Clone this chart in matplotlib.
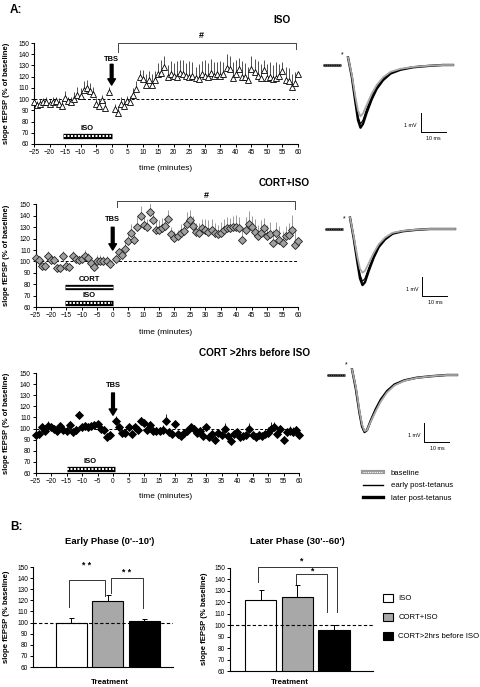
import matplotlib
matplotlib.use('Agg')
import matplotlib.pyplot as plt
from matplotlib.lines import Line2D
from matplotlib.patches import Patch
from matplotlib.legend_handler import HandlerTuple

plt.rcParams['font.family'] = ['Liberation Sans', 'DejaVu Sans']

# ---------------- data ----------------
time_pre = list(range(-25, 0))
time_post = list(range(1, 61))
time_min = time_pre + time_post

iso_vals = [97, 95, 96, 97, 97, 96, 97, 98, 96, 94, 101, 98, 97, 100, 104, 103, 108, 110, 107, 105, 96, 94, 99, 92, 106,
            91, 88, 96, 94, 98, 97, 104, 109, 120, 118, 113, 117, 113, 117, 122, 123, 129, 120, 122, 121,
            120, 123, 122, 121, 120, 121, 119, 118, 122, 121, 120, 123, 121, 122, 121, 122, 128, 127, 119, 122,
            127, 120, 120, 117, 127, 124, 121, 119, 126, 119, 120, 118, 119, 121, 125, 117, 116, 111, 114, 122]
iso_err = [4, 3, 4, 4, 5, 4, 5, 4, 5, 5, 6, 4, 5, 6, 7, 7, 8, 7, 7, 6, 5, 6, 5, 6, 5,
           5, 6, 6, 6, 5, 6, 6, 7, 6, 8, 9, 8, 9, 8, 10, 12, 9, 10, 12, 11,
           14, 12, 13, 11, 14, 12, 10, 13, 12, 14, 12, 13, 12, 11, 13, 11, 12, 11, 14, 13,
           10, 14, 12, 12, 11, 12, 13, 12, 9, 12, 13, 12, 14, 10, 8, 12, 12, 11, 10, 13]

cortiso_vals = [103, 101, 96, 96, 105, 101, 101, 94, 94, 105, 96, 95, 105, 102, 101, 102, 105, 103, 99, 95, 100, 100, 100, 100, 98,
                102, 108, 106, 111, 118, 125, 119, 130, 140, 132, 130, 143, 136, 128, 128, 129, 131, 137, 124, 121,
                122, 125, 127, 133, 136, 131, 126, 125, 129, 128, 126, 128, 125, 124, 125, 128, 129, 129, 130, 130,
                129, 119, 128, 133, 130, 126, 122, 125, 129, 122, 124, 116, 125, 119, 116, 122, 123, 128, 114, 118]
cortiso_err = [4, 3, 3, 3, 4, 4, 3, 3, 3, 4, 3, 3, 4, 4, 4, 4, 5, 4, 5, 4, 6, 6, 5, 5, 3,
               3, 4, 5, 6, 7, 8, 8, 9, 9, 8, 7, 9, 8, 9, 8, 9, 7, 8, 6, 6,
               6, 8, 7, 10, 9, 9, 8, 9, 8, 9, 10, 9, 9, 8, 10, 9, 10, 9, 10, 11,
               10, 9, 11, 11, 10, 11, 10, 11, 9, 10, 11, 12, 10, 12, 11, 9, 11, 13, 15, 11]

cort2h_vals = [94, 95, 101, 98, 102, 101, 100, 98, 102, 99, 98, 103, 97, 99, 112, 101, 102, 101, 102, 103, 104, 100, 99, 92, 94,
               107, 101, 96, 96, 101, 95, 101, 99, 107, 105, 99, 103, 98, 98, 98, 99, 107, 97, 95, 104,
               95, 93, 96, 98, 101, 100, 96, 98, 93, 101, 92, 95, 90, 96, 94, 100, 93, 89, 95, 97,
               92, 93, 94, 100, 94, 92, 94, 93, 95, 96, 100, 101, 95, 100, 90, 97, 98, 97, 99, 94]
cort2h_err = [2, 3, 3, 3, 5, 3, 3, 3, 3, 3, 3, 4, 3, 3, 4, 3, 3, 3, 2, 2, 3, 3, 3, 4, 3,
              4, 3, 3, 3, 3, 3, 3, 3, 3, 3, 4, 4, 3, 3, 3, 4, 6, 3, 5, 3,
              3, 2, 3, 3, 3, 3, 3, 3, 3, 3, 3, 3, 3, 3, 3, 5, 3, 3, 3, 3,
              3, 3, 3, 5, 3, 3, 3, 3, 3, 5, 6, 5, 5, 3, 3, 3, 4, 4, 3, 3]

x_ticks = list(range(-25, 61, 5))
y_ticks = list(range(60, 151, 10))

# example fEPSP traces (ms, mV)
trace_t = [2, 3.5, 5, 6, 7, 8, 9.5, 11.5, 13.5, 16, 19, 23, 28, 34, 40, 44]
pre_t = [-8, -1]
pre_v = [0, 0]
tr_iso = {
    'baseline': [0.4, -0.5, -1.7, -2.4, -2.7, -2.55, -2.1, -1.5, -1.05, -0.65, -0.36, -0.2, -0.1, -0.04, 0.0, 0.0],
    'early': [0.4, -0.6, -1.9, -2.7, -3.1, -2.9, -2.3, -1.65, -1.15, -0.72, -0.4, -0.22, -0.1, -0.04, 0.0, 0.0],
    'later': [0.4, -0.6, -2.0, -2.9, -3.3, -3.1, -2.5, -1.8, -1.25, -0.8, -0.45, -0.25, -0.12, -0.05, 0.0, 0.0],
}
tr_cortiso = {
    'baseline': [0.6, -0.4, -1.5, -2.1, -2.3, -2.2, -1.8, -1.25, -0.8, -0.45, -0.2, -0.1, -0.04, 0.0, 0.0, 0.0],
    'early': [0.6, -0.5, -1.7, -2.4, -2.75, -2.6, -2.05, -1.4, -0.9, -0.5, -0.22, -0.1, -0.04, 0.0, 0.0, 0.0],
    'later': [0.6, -0.5, -1.8, -2.6, -2.95, -2.8, -2.2, -1.5, -0.95, -0.55, -0.25, -0.12, -0.05, 0.0, 0.0, 0.0],
}
tr_cort2h = {
    'baseline': [0.3, -0.6, -1.9, -2.6, -2.95, -2.9, -2.45, -1.9, -1.4, -0.92, -0.55, -0.3, -0.15, -0.06, 0.0, 0.0],
    'early': [0.3, -0.7, -2.0, -2.7, -3.0, -2.9, -2.4, -1.8, -1.3, -0.85, -0.5, -0.28, -0.14, -0.06, 0.0, 0.0],
    'later': [0.3, -0.7, -2.0, -2.7, -3.0, -2.9, -2.4, -1.8, -1.3, -0.85, -0.5, -0.28, -0.14, -0.06, 0.0, 0.0],
}

groups = ['ISO', 'CORT+ISO', 'CORT>2hrs before ISO']
early_mean = [100, 119, 101]
early_sem = [4, 6, 2]
later_mean = [122, 125, 96]
later_sem = [9, 10, 4]
bar_colors = ['white', '#a8a8a8', 'black']

# ---------------- figure ----------------
W, H = 480, 687
fig = plt.figure(figsize=(W / 100, H / 100), dpi=100)


def ax_px(x0, y0, x1, y1):
    return fig.add_axes([x0 / W, 1 - y1 / H, (x1 - x0) / W, (y1 - y0) / H])


def ftext(x, y, s, **kw):
    fig.text(x / W, 1 - y / H, s, **kw)


TICK_FS = 4.7


def style_axes(ax):
    for s in ('top', 'right'):
        ax.spines[s].set_visible(False)
    for s in ('left', 'bottom'):
        ax.spines[s].set_linewidth(0.8)
    ax.tick_params(direction='out', length=2, width=0.7, labelsize=TICK_FS, pad=1.5)


def ts_panel(ax, vals, errs, marker, face, ecol, errcol, ms):
    tops = [v + e for v, e in zip(vals, errs)]
    ax.vlines(time_min, vals, tops, color=errcol, lw=0.6, zorder=2)
    ax.plot(time_min, vals, ls='none', marker=marker, mfc=face, mec=ecol, ms=ms, mew=0.6,
            zorder=3, clip_on=False)
    ax.axhline(100, ls=(0, (3, 2)), color='black', lw=0.7, zorder=1)
    ax.set_xlim(-25, 60)
    ax.set_ylim(60, 150)
    ax.set_xticks(x_ticks)
    ax.set_yticks(y_ticks)
    style_axes(ax)


def tbs(ax, text_y, top, tip):
    ax.annotate('', xy=(0, tip), xytext=(0, top),
                arrowprops=dict(facecolor='black', edgecolor='black', width=2.0, headwidth=5.5,
                                headlength=4.5, shrink=0), annotation_clip=False)
    ax.text(0, text_y, 'TBS', ha='center', va='center', fontsize=5.4, fontweight='bold')


def stim_bar(ax, x0, x1, y, kind):
    ax.plot([x0, x1], [y, y], color='black', lw=3.8, solid_capstyle='butt', clip_on=False)
    if kind == 'dotted':
        ax.plot([x0 + 0.3, x1 - 0.3], [y, y], color='white', lw=1.4, ls=(0, (1.0, 0.8)), clip_on=False)
    else:
        ax.plot([x0 + 0.3, x1 - 0.3], [y, y], color='white', lw=1.0, clip_on=False)


def bracket(ax, x0, x1, yl, ytop, yr, color='#444444'):
    ax.plot([x0, x0, x1, x1], [yl, ytop, ytop, yr], color=color, lw=0.7, clip_on=False)


# Panel 1: ISO
ax1 = ax_px(34, 43, 298, 144)
ts_panel(ax1, iso_vals, iso_err, '^', 'white', 'black', '#333333', 4.8)
tbs(ax1, 135.5, 131, 112.5)
stim_bar(ax1, -15.7, 0, 67, 'dotted')
ax1.text(-8, 73.5, 'ISO', ha='center', va='center', fontsize=5.5, fontweight='bold')
bracket(ax1, 2, 59.5, 142, 150, 144.5)
ax1.text(28.8, 157, '#', ha='center', va='center', fontsize=6.5, fontweight='bold')

# Panel 2: CORT+ISO
ax2 = ax_px(35.5, 204.5, 298, 307)
ts_panel(ax2, cortiso_vals, cortiso_err, 'D', '#a0a0a0', '#222222', '#8a8a8a', 3.8)
tbs(ax2, 137, 130, 110)
stim_bar(ax2, -15.5, 0, 77.5, 'solid')
ax2.text(-7.5, 84, 'CORT', ha='center', va='center', fontsize=5.5, fontweight='bold')
stim_bar(ax2, -15.5, 0, 63.5, 'dotted')
ax2.text(-7.5, 70, 'ISO', ha='center', va='center', fontsize=5.5, fontweight='bold')
bracket(ax2, 1.5, 59, 147.5, 153, 146)
ax2.text(30.4, 158, '#', ha='center', va='center', fontsize=6.5, fontweight='bold')

# Panel 3: CORT >2hrs before ISO
ax3 = ax_px(35.5, 373, 299, 473)
ts_panel(ax3, cort2h_vals, cort2h_err, 'D', 'black', 'black', 'black', 3.8)
tbs(ax3, 139, 132, 112)
stim_bar(ax3, -15, 0.5, 63.6, 'dotted')
ax3.text(-7.5, 70, 'ISO', ha='center', va='center', fontsize=5.5, fontweight='bold')

for yc, yt in ((93.5, 168), (255.5, 332), (423, 497)):
    ftext(6.5, yc, 'slope fEPSP (% of baseline)', rotation=90, ha='center', va='center',
          fontsize=5.5, fontweight='bold')
    ftext(166, yt, 'time (minutes)', ha='center', va='center', fontsize=6.0)

ftext(10, 10, 'A:', ha='left', va='center', fontsize=8.5, fontweight='bold')
ftext(282, 20, 'ISO', ha='center', va='center', fontsize=7.2, fontweight='bold')
ftext(284, 183, 'CORT+ISO', ha='center', va='center', fontsize=7.2, fontweight='bold')
ftext(255, 353, 'CORT >2hrs before ISO', ha='center', va='center', fontsize=7.2, fontweight='bold')


# ---------------- traces ----------------
def trace_panel(stim_x, base_y, tr):
    ax = ax_px(stim_x - 25, base_y - 1.3 * 19, stim_x + 115, base_y + 4.2 * 19)
    ax.set_xlim(-10, 46)
    ax.set_ylim(-4.2, 1.3)
    ax.axis('off')
    ax.plot(pre_t, pre_v, color='#555555', lw=2.2, solid_capstyle='butt')
    ax.plot(pre_t, pre_v, color='black', lw=0.8, ls=(0, (1, 1)))
    ax.plot(trace_t, tr['later'], color='black', lw=1.7)
    ax.plot(trace_t, tr['early'], color='black', lw=0.8)
    ax.plot(trace_t, tr['baseline'], color='#a8a8a8', lw=1.3)
    ax.text(-0.5, 0.55, '*', ha='center', va='center', fontsize=5)
    ax.plot([31, 31, 41], [-2.55, -3.55, -3.55], color='black', lw=0.7)
    ax.text(29.5, -3.2, '1 mV', ha='right', va='center', fontsize=3.8)
    ax.text(36, -3.75, '10 ms', ha='center', va='top', fontsize=3.8)


trace_panel(343, 65, tr_iso)
trace_panel(345, 229, tr_cortiso)
trace_panel(347, 375, tr_cort2h)

base_handle = (Line2D([], [], color='#9a9a9a', lw=3.0), Line2D([], [], color='white', lw=0.8, ls=(0, (1, 1))))
h_early = Line2D([], [], color='black', lw=1.0)
h_later = Line2D([], [], color='black', lw=2.4)
fig.legend([base_handle, h_early, h_later], ['baseline', 'early post-tetanus', 'later post-tetanus'],
           handler_map={tuple: HandlerTuple(ndivide=1)},
           loc='upper left', bbox_to_anchor=(363 / W, 1 - 469.5 / H), frameon=False, fontsize=5.6,
           handlelength=2.6, handletextpad=1.0, labelspacing=0.65, borderpad=0, borderaxespad=0)

# ---------------- Panel B ----------------
ftext(10, 527, 'B:', ha='left', va='center', fontsize=8.5, fontweight='bold')


def bar_panel(ax, means, sems, xlim):
    xs = list(range(len(means)))
    ax.bar(xs, means, width=0.85, color=bar_colors, edgecolor='black', linewidth=0.8, zorder=2)
    ax.errorbar(xs, means, yerr=[[0] * len(sems), sems], fmt='none', ecolor='black',
                elinewidth=0.7, capsize=1.8, capthick=0.7, zorder=3)
    ax.set_xlim(*xlim)
    ax.set_ylim(60, 150)
    ax.axhline(100, ls=(0, (3, 2)), color='black', lw=0.8, zorder=4)
    ax.set_xticks([])
    ax.set_yticks(y_ticks)
    style_axes(ax)


axb1 = ax_px(33, 567, 173, 667)
bar_panel(axb1, early_mean, early_sem, (-1.05, 2.78))
bracket(axb1, -0.06, 0.93, 114.3, 138.3, 124, color='#333333')
bracket(axb1, 1.08, 1.97, 126.3, 139.8, 112.8, color='#333333')
axb1.text(0.42, 151.5, '* *', ha='center', va='center', fontsize=6.2, fontweight='bold')
axb1.text(1.52, 144.9, '* *', ha='center', va='center', fontsize=6.2, fontweight='bold')

axb2 = ax_px(230, 568, 373, 671)
bar_panel(axb2, later_mean, later_sem, (-0.83, 3.06))
bracket(axb2, -0.06, 2.07, 137.7, 150.7, 111.6, color='#333333')
bracket(axb2, 0.97, 1.8, 136.2, 145, 111.6, color='#333333')
axb2.text(1.12, 156.5, '*', ha='center', va='center', fontsize=6.2, fontweight='bold')
axb2.text(1.42, 147.2, '*', ha='center', va='center', fontsize=6.2, fontweight='bold')

ftext(110, 542, "Early Phase (0'--10')", ha='center', va='center', fontsize=6.8, fontweight='bold')
ftext(297, 541, "Later Phase (30'--60')", ha='center', va='center', fontsize=6.8, fontweight='bold')
ftext(6.5, 617, 'slope fEPSP (% baseline)', rotation=90, ha='center', va='center', fontsize=5.6, fontweight='bold')
ftext(205, 619, 'slope fEPSP (% baseline)', rotation=90, ha='center', va='center', fontsize=5.6, fontweight='bold')
ftext(110, 682, 'Treatment', ha='center', va='center', fontsize=5.7, fontweight='bold')
ftext(290, 683, 'Treatment', ha='center', va='center', fontsize=5.7, fontweight='bold')

bar_handles = [Patch(facecolor=c, edgecolor='black', linewidth=0.8) for c in bar_colors]
fig.legend(bar_handles, groups, loc='upper left', bbox_to_anchor=(383 / W, 1 - 594 / H), frameon=False,
           fontsize=5.6, handlelength=1.3, handleheight=1.15, handletextpad=0.65, labelspacing=1.35,
           borderpad=0, borderaxespad=0)

fig.savefig('out.png', dpi=100)
